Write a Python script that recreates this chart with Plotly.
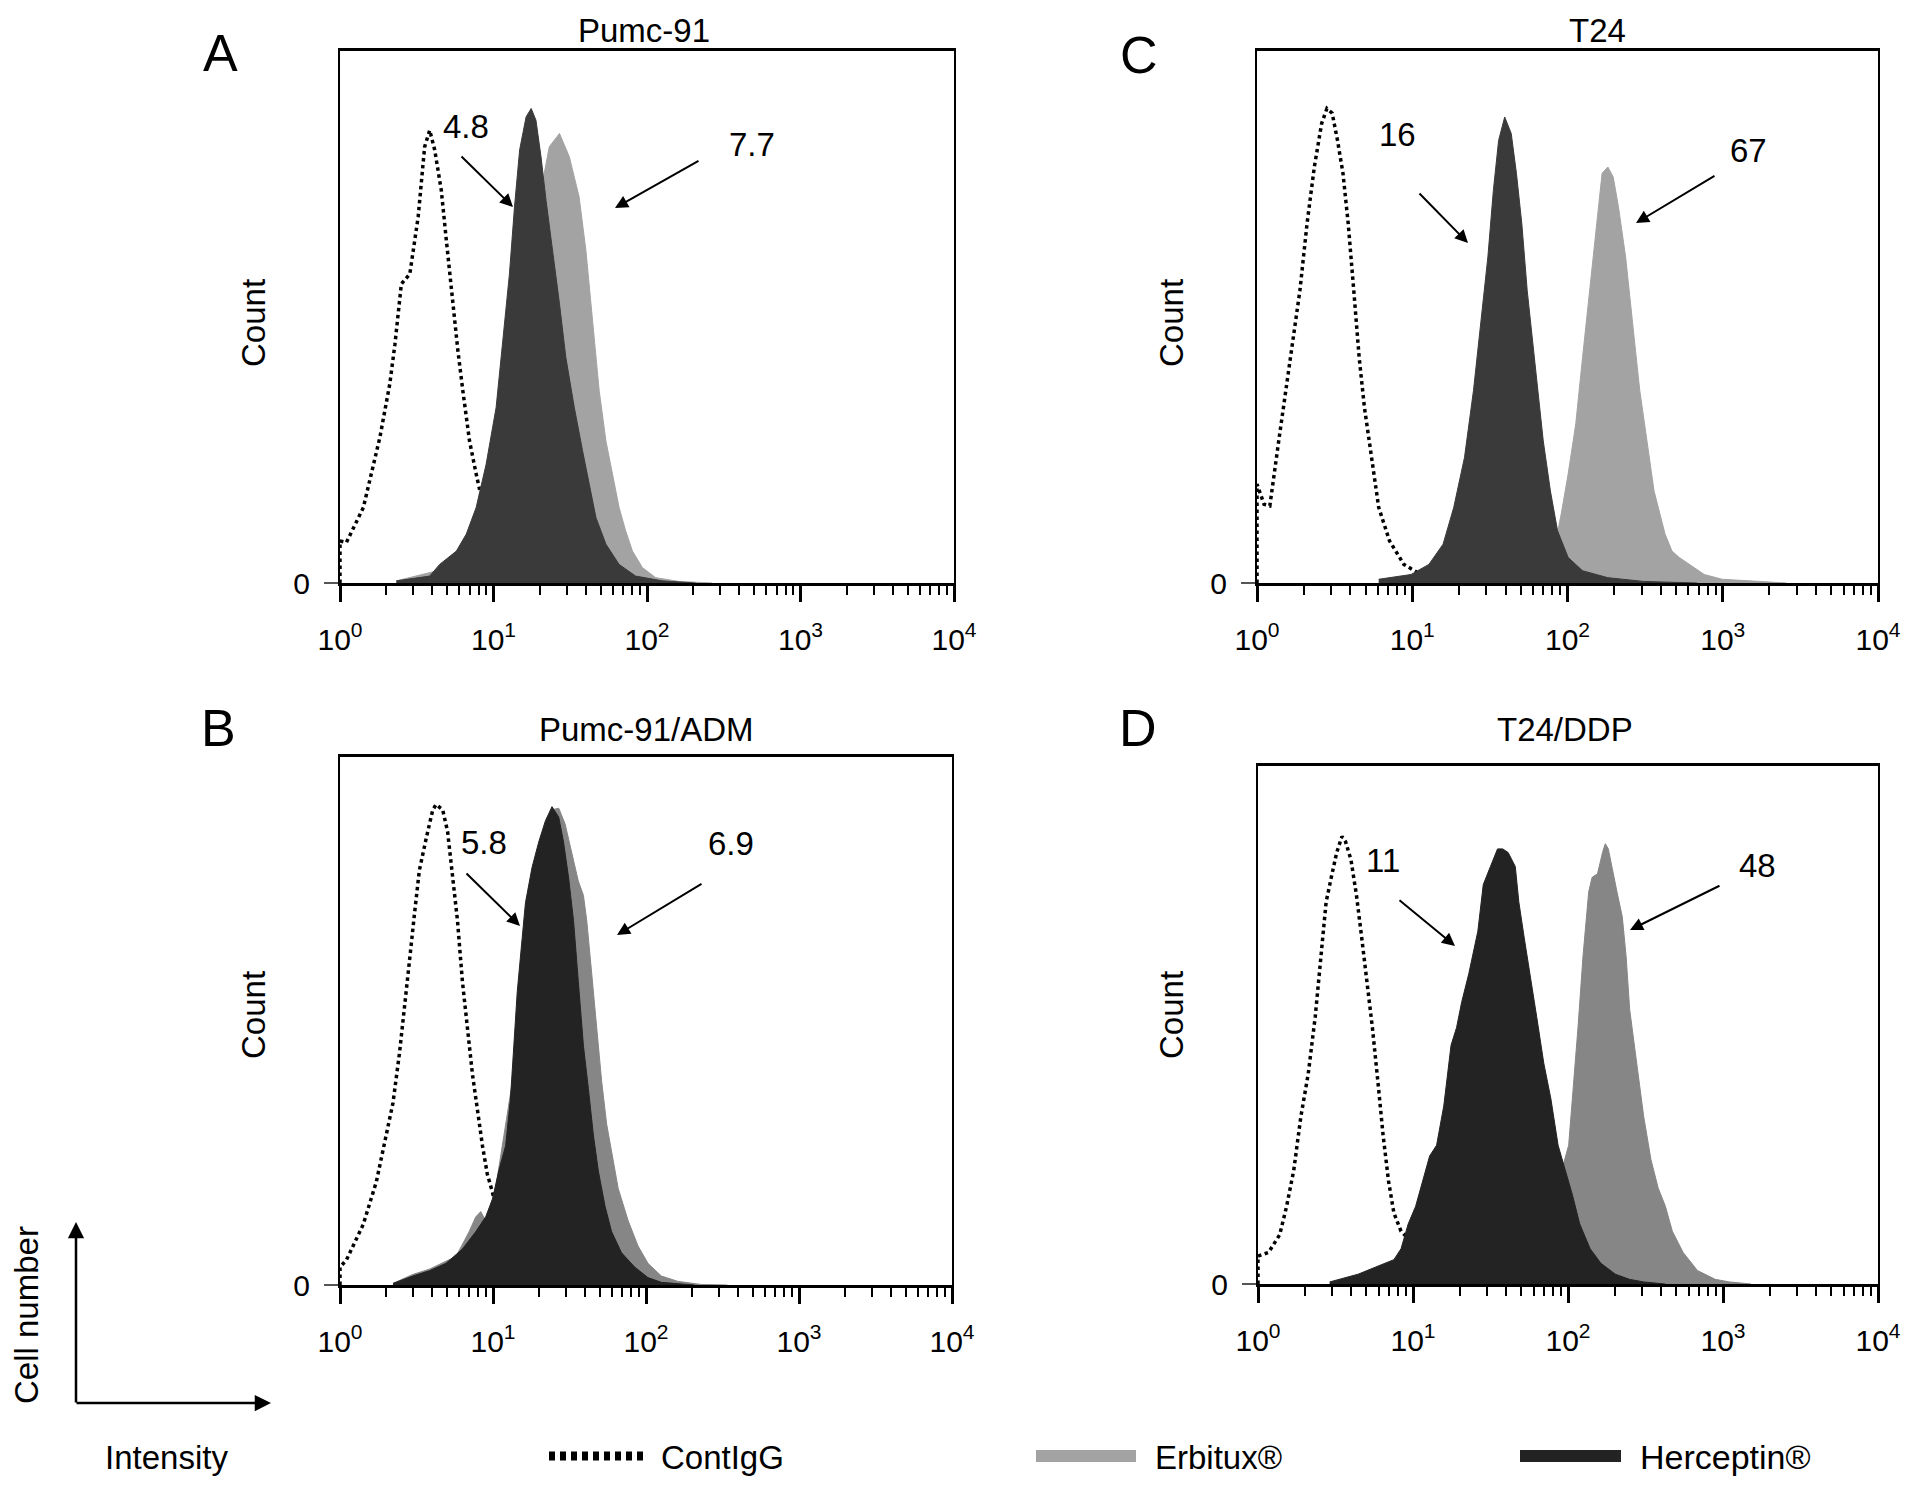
import plotly.graph_objects as go

# intensity (x) and relative count (y)
A_cont_x = [1.0, 1.0, 1.1, 1.42, 1.82, 2.11, 2.28, 2.51, 2.85, 3.23, 3.56, 3.84, 4.14, 4.57, 4.93, 5.45, 5.86, 6.31, 6.98, 7.71, 8.32, 9.42, 11.5, 17.0, 28.0, 126]
A_cont_y = [0, 0.079, 0.076, 0.142, 0.274, 0.374, 0.449, 0.562, 0.581, 0.688, 0.82, 0.851, 0.814, 0.738, 0.644, 0.519, 0.437, 0.362, 0.267, 0.205, 0.161, 0.092, 0.035, 0.007, 0.001, 0]
A_erb_x = [2.33, 6.31, 9.42, 12.1, 14.8, 17.1, 19.4, 21.4, 23.1, 26.9, 31.2, 36.1, 40.0, 44.2, 48.8, 54.0, 59.6, 65.8, 72.6, 80.4, 93.3, 114, 161, 265]
A_erb_y = [0.004, 0.035, 0.092, 0.205, 0.362, 0.519, 0.644, 0.770, 0.820, 0.845, 0.801, 0.726, 0.625, 0.487, 0.362, 0.267, 0.205, 0.142, 0.098, 0.060, 0.029, 0.010, 0.003, 0]
A_her_x = [2.33, 3.84, 4.46, 5.73, 6.65, 7.71, 8.95, 10.4, 11.5, 12.7, 13.7, 14.8, 16.3, 17.6, 18.9, 20.4, 22.0, 24.3, 26.9, 29.6, 33.6, 38.0, 42.0, 46.5, 54.0, 65.8, 84.3, 126, 207]
A_her_y = [0.004, 0.013, 0.035, 0.060, 0.092, 0.142, 0.223, 0.330, 0.456, 0.581, 0.707, 0.814, 0.876, 0.892, 0.870, 0.801, 0.719, 0.625, 0.525, 0.424, 0.330, 0.249, 0.186, 0.123, 0.073, 0.035, 0.013, 0.004, 0]

B_cont_x = [1.0, 1.0, 1.1, 1.42, 1.73, 2.01, 2.22, 2.45, 2.64, 2.85, 3.07, 3.30, 3.66, 4.04, 4.25, 4.69, 5.05, 5.45, 5.86, 6.31, 6.81, 7.34, 7.91, 8.53, 9.18, 9.91, 11.5, 14.0, 22.0, 46.5, 207]
B_cont_y = [0, 0.034, 0.047, 0.115, 0.196, 0.284, 0.345, 0.44, 0.521, 0.616, 0.704, 0.785, 0.846, 0.90, 0.91, 0.90, 0.859, 0.778, 0.69, 0.575, 0.48, 0.399, 0.332, 0.264, 0.21, 0.176, 0.095, 0.034, 0.007, 0.001, 0]
B_erb_x = [2.22, 2.99, 3.84, 5.73, 6.98, 7.71, 8.32, 8.95, 10.4, 13.4, 17.1, 20.9, 24.3, 26.9, 29.6, 32.7, 36.1, 39.0, 41.0, 44.2, 47.5, 51.3, 55.3, 59.6, 65.8, 76.4, 88.7, 103, 126, 161, 229, 340]
B_erb_y = [0.003, 0.02, 0.03, 0.054, 0.101, 0.129, 0.139, 0.122, 0.183, 0.386, 0.656, 0.825, 0.9, 0.903, 0.873, 0.819, 0.765, 0.738, 0.69, 0.589, 0.487, 0.386, 0.305, 0.25, 0.183, 0.122, 0.074, 0.041, 0.017, 0.007, 0.001, 0]
B_her_x = [2.22, 2.99, 3.84, 4.93, 6.31, 7.71, 8.95, 9.91, 10.9, 12.1, 13.0, 13.7, 14.4, 15.5, 16.3, 18.0, 19.9, 22.0, 24.3, 26.9, 28.9, 31.2, 33.6, 36.1, 39.0, 42.0, 45.3, 48.8, 54.0, 59.6, 69.2, 84.3, 103, 126, 207]
B_her_y = [0.003, 0.017, 0.027, 0.041, 0.068, 0.101, 0.129, 0.162, 0.216, 0.264, 0.352, 0.453, 0.555, 0.656, 0.724, 0.791, 0.839, 0.879, 0.906, 0.886, 0.839, 0.771, 0.69, 0.575, 0.453, 0.372, 0.284, 0.216, 0.149, 0.101, 0.061, 0.034, 0.014, 0.005, 0]

C_cont_x = [1.0, 1.0, 1.11, 1.21, 1.38, 1.53, 1.70, 1.89, 2.10, 2.34, 2.61, 2.82, 3.05, 3.30, 3.58, 3.87, 4.20, 4.55, 4.92, 5.47, 6.08, 7.14, 8.83, 10.9, 16.7, 37.0]
C_cont_y = [0, 0.186, 0.148, 0.145, 0.267, 0.362, 0.456, 0.550, 0.675, 0.782, 0.864, 0.892, 0.883, 0.832, 0.770, 0.675, 0.550, 0.424, 0.330, 0.236, 0.142, 0.079, 0.035, 0.019, 0.004, 0]
C_erb_x = [37.0, 62.8, 81.8, 91.0, 101, 113, 125, 139, 155, 167, 182, 197, 213, 237, 263, 292, 325, 361, 425, 471, 525, 615, 760, 991, 1514, 2576]
C_erb_y = [0.004, 0.023, 0.060, 0.129, 0.205, 0.299, 0.424, 0.550, 0.675, 0.770, 0.782, 0.763, 0.707, 0.612, 0.487, 0.362, 0.267, 0.173, 0.092, 0.060, 0.048, 0.035, 0.016, 0.007, 0.004, 0]
C_her_x = [6.08, 9.82, 12.8, 15.8, 18.5, 21.7, 24.8, 27.6, 30.7, 33.3, 36.0, 39.4, 43.4, 46.9, 50.8, 55.0, 59.6, 64.6, 69.8, 77.6, 86.3, 101, 125, 182, 308, 684]
C_her_y = [0.007, 0.016, 0.035, 0.073, 0.142, 0.236, 0.362, 0.487, 0.613, 0.738, 0.832, 0.876, 0.845, 0.770, 0.675, 0.550, 0.456, 0.362, 0.267, 0.173, 0.098, 0.048, 0.023, 0.010, 0.003, 0]

D_cont_x = [1.0, 1.0, 1.17, 1.38, 1.53, 1.70, 1.89, 2.11, 2.34, 2.54, 2.75, 2.97, 3.22, 3.48, 3.67, 3.98, 4.32, 4.67, 5.06, 5.47, 5.93, 6.41, 6.95, 7.53, 8.37, 9.31, 10.9, 14.2, 28.4, 107, 403]
D_cont_y = [0, 0.054, 0.061, 0.095, 0.15, 0.219, 0.323, 0.406, 0.516, 0.633, 0.737, 0.785, 0.833, 0.864, 0.854, 0.819, 0.75, 0.668, 0.585, 0.495, 0.392, 0.288, 0.199, 0.137, 0.102, 0.088, 0.047, 0.019, 0.004, 0.001, 0]
D_erb_x = [37.0, 62.8, 86.3, 91.0, 101, 107, 116, 125, 136, 143, 155, 167, 174, 182, 191, 207, 224, 237, 250, 277, 308, 343, 382, 425, 471, 553, 684, 891, 1102, 1514]
D_erb_y = [0.001, 0.012, 0.061, 0.219, 0.268, 0.357, 0.495, 0.633, 0.757, 0.785, 0.792, 0.833, 0.85, 0.84, 0.806, 0.757, 0.709, 0.633, 0.53, 0.426, 0.323, 0.24, 0.185, 0.15, 0.102, 0.061, 0.026, 0.009, 0.004, 0]
D_her_x = [2.90, 4.43, 5.77, 7.53, 8.37, 9.31, 10.4, 11.5, 12.8, 14.2, 15.8, 17.6, 19.1, 20.6, 22.9, 26.2, 28.4, 31.6, 35.1, 37.9, 41.1, 45.7, 48.2, 52.2, 56.5, 62.8, 69.8, 77.6, 86.3, 95.9, 107, 119, 139, 163, 202, 249, 308, 424]
D_her_y = [0.004, 0.019, 0.033, 0.047, 0.068, 0.116, 0.15, 0.199, 0.247, 0.268, 0.344, 0.461, 0.495, 0.544, 0.599, 0.681, 0.771, 0.806, 0.84, 0.84, 0.833, 0.806, 0.737, 0.668, 0.599, 0.516, 0.426, 0.357, 0.268, 0.219, 0.171, 0.116, 0.068, 0.04, 0.019, 0.009, 0.004, 0]

titles = ["Pumc-91", "Pumc-91/ADM", "T24", "T24/DDP"]
letters = ["A", "B", "C", "D"]
erb_labels = ["7.7", "6.9", "67", "48"]
her_labels = ["4.8", "5.8", "16", "11"]
tick_vals = [1, 10, 100, 1000, 10000]
tick_text = ["10<sup>0</sup>", "10<sup>1</sup>", "10<sup>2</sup>", "10<sup>3</sup>", "10<sup>4</sup>"]

W, H = 1913, 1487
OFF = 8  # the page body margin shifts the figure by this much
FONT = "Liberation Sans, Arial, sans-serif"


def px(x):
    return (x - OFF) / W


def py(y):
    return 1 - (y - OFF) / H


# panel boxes in screen pixels: left, right, bottom(baseline), top
boxes = [(340, 954, 583, 51), (340, 952, 1285, 757), (1257, 1878, 583, 51), (1258, 1878, 1284, 766)]
erb_color = ["#a3a3a3", "#868686", "#a3a3a3", "#868686"]
her_color = ["#3a3a3a", "#232323", "#3a3a3a", "#232323"]
series = [
    (A_cont_x, A_cont_y, A_erb_x, A_erb_y, A_her_x, A_her_y),
    (B_cont_x, B_cont_y, B_erb_x, B_erb_y, B_her_x, B_her_y),
    (C_cont_x, C_cont_y, C_erb_x, C_erb_y, C_her_x, C_her_y),
    (D_cont_x, D_cont_y, D_erb_x, D_erb_y, D_her_x, D_her_y),
]

fig = go.Figure()
minor_vals = [m * 10 ** k for k in range(4) for m in range(2, 10)]

for i, (cx, cy, ex, ey, hx, hy) in enumerate(series):
    sfx = "" if i == 0 else str(i + 1)
    xa, ya = "x" + sfx, "y" + sfx
    fig.add_trace(go.Scatter(x=cx, y=cy, mode="lines", xaxis=xa, yaxis=ya,
                             line=dict(color="black", width=3.5, dash="dot"), showlegend=False))
    fig.add_trace(go.Scatter(x=ex, y=ey, mode="lines", xaxis=xa, yaxis=ya, fill="tozeroy",
                             fillcolor=erb_color[i], line=dict(color=erb_color[i], width=1), showlegend=False))
    fig.add_trace(go.Scatter(x=hx, y=hy, mode="lines", xaxis=xa, yaxis=ya, fill="tozeroy",
                             fillcolor=her_color[i], line=dict(color=her_color[i], width=1), showlegend=False))

    l, r, b, t = boxes[i]
    fig.layout["xaxis" + sfx] = dict(
        domain=[px(l), px(r)], anchor=ya, type="log", range=[0, 4], automargin=False,
        tickvals=tick_vals, ticktext=tick_text, ticks="outside", ticklen=16, tickwidth=2.5,
        tickcolor="black", ticklabelstandoff=12,
        tickfont=dict(family=FONT, size=30, color="black"),
        minor=dict(tickvals=minor_vals, ticks="outside", ticklen=9, tickwidth=2, tickcolor="black", showgrid=False),
        showline=True, linewidth=2.5, linecolor="black", mirror=True,
        showgrid=False, zeroline=False, fixedrange=True,
    )
    fig.layout["yaxis" + sfx] = dict(
        domain=[py(b), py(t)], anchor=xa, range=[0, 1], automargin=False,
        tickvals=[0], ticktext=["0"], ticks="outside", ticklen=14, tickwidth=2,
        tickcolor="#555", ticklabelstandoff=8,
        tickfont=dict(family=FONT, size=30, color="black"),
        showline=True, linewidth=2, linecolor="black", mirror=True,
        showgrid=False, zeroline=False, fixedrange=True,
    )

ann = []


def text(x, y, s, size=33, anchor="center", **kw):
    ann.append(dict(x=px(x), y=py(y), xref="paper", yref="paper", text=s, showarrow=False,
                    xanchor=anchor, yanchor="middle",
                    font=dict(family=FONT, size=size, color="black"), **kw))


def arrow(tip, tail, width=2):
    ann.append(dict(x=px(tip[0]), y=py(tip[1]), xref="paper", yref="paper", text="",
                    showarrow=True, arrowhead=2, arrowsize=1.3, arrowwidth=width, arrowcolor="black",
                    ax=tail[0] - tip[0], ay=tail[1] - tip[1]))


# panel titles, letters and count labels
title_pos = [(644, 30), (646, 729), (1597, 30), (1565, 729)]
letter_pos = [(220, 53), (218, 728), (1139, 55), (1138, 728)]
count_pos = [(253, 323), (253, 1015), (1171, 323), (1171, 1015)]
for i in range(4):
    text(*title_pos[i], titles[i], size=33)
    text(*letter_pos[i], letters[i], size=52)
    text(*count_pos[i], "Count", size=33, textangle=-90)

# value labels with arrows
her_lab_pos = [(466, 127), (484, 842), (1397, 134), (1383, 860)]
erb_lab_pos = [(752, 144), (731, 843), (1748, 151), (1757, 865)]
her_arrows = [((513, 207), (460, 155)), ((520, 926), (465, 872)), ((1468, 243), (1418, 192)), ((1455, 946), (1398, 899))]
erb_arrows = [((615, 208), (700, 160)), ((617, 935), (703, 883)), ((1636, 223), (1716, 175)), ((1630, 930), (1721, 885))]
for i in range(4):
    text(*her_lab_pos[i], her_labels[i])
    text(*erb_lab_pos[i], erb_labels[i])
    arrow(*her_arrows[i])
    arrow(*erb_arrows[i])

# axis key at bottom left
arrow((76, 1222), (76, 1404), width=2.5)
arrow((271, 1403), (75, 1403), width=2.5)
text(26, 1315, "Cell number", size=33, textangle=-90)
text(166, 1457, "Intensity", size=33)

# legend
text(659, 1457, "ContIgG", size=33, anchor="left")
text(1153, 1457, "Erbitux®", size=33, anchor="left")
text(1638, 1457, "Herceptin®", size=34, anchor="left")

shapes = [
    dict(type="line", xref="paper", yref="paper", x0=px(549), x1=px(648), y0=py(1456), y1=py(1456),
         line=dict(color="black", width=9, dash="6px,5px")),
    dict(type="rect", xref="paper", yref="paper", x0=px(1036), x1=px(1136), y0=py(1462), y1=py(1450),
         fillcolor="#a3a3a3", line=dict(width=0)),
    dict(type="rect", xref="paper", yref="paper", x0=px(1520), x1=px(1621), y0=py(1462), y1=py(1450),
         fillcolor="#232323", line=dict(width=0)),
]

fig.update_layout(
    width=W, height=H, autosize=False,
    margin=dict(l=0, r=0, t=0, b=0, autoexpand=False),
    paper_bgcolor="white", plot_bgcolor="white",
    annotations=ann, shapes=shapes, showlegend=False,
    font=dict(family=FONT, color="black"),
)

fig.write_html("out.html")
